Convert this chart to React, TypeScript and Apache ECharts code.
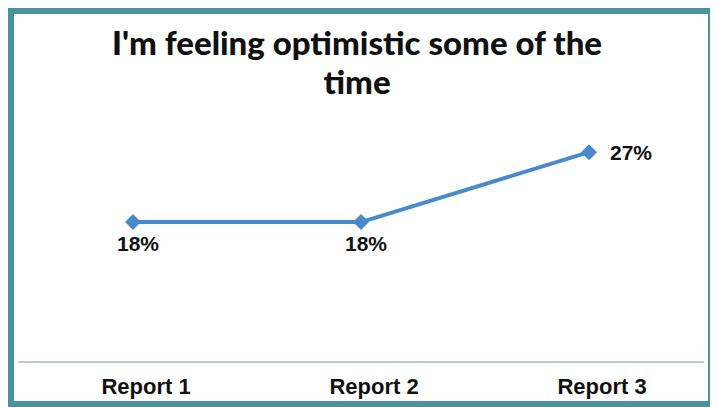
import React, { useEffect, useRef } from "react";
import * as echarts from "echarts";

const titleLines = ["I'm feeling optimistic some of the", "time"];
const categories = ["Report 1", "Report 2", "Report 3"];
const values = [18, 18, 27];
const labelPositions = ["bottom", "bottom", "right"];

export default function App() {
  const ref = useRef<HTMLDivElement>(null);

  useEffect(() => {
    document.documentElement.style.overflow = "hidden";
    document.body.style.overflow = "hidden";
    const chart = echarts.init(ref.current!, undefined, { renderer: "svg" });
    chart.setOption({
      animation: false,
      backgroundColor: "#ffffff",
      title: {
        text: titleLines.join("\n"),
        left: 338,
        top: 3,
        textAlign: "center",
        textStyle: {
          fontFamily: "Lato",
          fontWeight: 900,
          fontSize: 33,
          lineHeight: 39,
          color: "#111111",
        },
      },
      grid: { left: 5, right: 5, top: 76, bottom: 39 },
      xAxis: {
        type: "category",
        data: categories,
        boundaryGap: true,
        axisLine: { lineStyle: { color: "#b9cbd1", width: 2 } },
        axisTick: { show: false },
        axisLabel: {
          margin: 13,
          padding: [0, 0, 0, 26],
          fontFamily: "Liberation Sans",
          fontWeight: "bold",
          fontSize: 22,
          color: "#111111",
        },
      },
      yAxis: {
        type: "value",
        min: 0,
        max: 35,
        show: false,
        splitLine: { show: false },
      },
      series: [
        {
          type: "line",
          data: values.map((v, i) => ({
            value: v,
            label: {
              position: labelPositions[i],
              distance: labelPositions[i] === "right" ? 13 : 3,
              offset: labelPositions[i] === "right" ? [0, 0] : [5, 0],
            },
          })),
          symbol: "diamond",
          symbolSize: 16,
          lineStyle: { color: "#4a8acb", width: 4 },
          itemStyle: { color: "#4a8acb" },
          label: {
            show: true,
            formatter: "{c}%",
            fontFamily: "Liberation Sans",
            fontWeight: "bold",
            fontSize: 21,
            color: "#111111",
          },
        },
      ],
    });
    return () => chart.dispose();
  }, []);

  return (
    <div
      style={{
        width: 706,
        height: 399,
        boxSizing: "border-box",
        border: "6px solid #4a929d",
        background: "#ffffff",
      }}
    >
      <div ref={ref} style={{ width: 694, height: 387 }} />
    </div>
  );
}
